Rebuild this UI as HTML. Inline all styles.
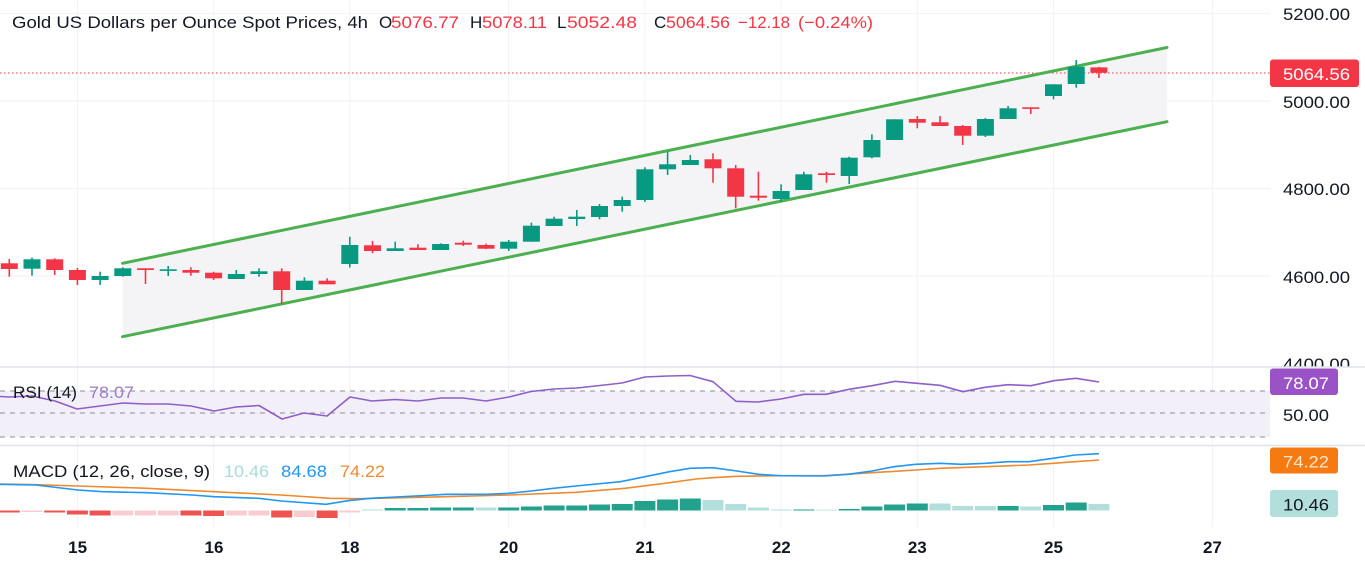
<!DOCTYPE html>
<html><head><meta charset="utf-8">
<style>
html,body{margin:0;padding:0;background:#fff;}
svg{display:block;}
text{font-family:"Liberation Sans",sans-serif;}
</style></head>
<body>
<svg width="1365" height="568" viewBox="0 0 1365 568" xmlns="http://www.w3.org/2000/svg">
<defs>
<clipPath id="mainclip"><rect x="0" y="0" width="1365" height="366.5"/></clipPath>
</defs>
<rect width="1365" height="568" fill="#fff"/>

<!-- vertical grid -->
<g stroke="#f0f2f7" stroke-width="1">
<line x1="77.4" y1="0" x2="77.4" y2="527"/>
<line x1="213.6" y1="0" x2="213.6" y2="527"/>
<line x1="349.8" y1="0" x2="349.8" y2="527"/>
<line x1="508.7" y1="0" x2="508.7" y2="527"/>
<line x1="644.9" y1="0" x2="644.9" y2="527"/>
<line x1="781.1" y1="0" x2="781.1" y2="527"/>
<line x1="917.3" y1="0" x2="917.3" y2="527"/>
<line x1="1053.5" y1="0" x2="1053.5" y2="527"/>
<line x1="1212.4" y1="0" x2="1212.4" y2="527"/>
</g>
<!-- horizontal grid -->
<g stroke="#f0f2f7" stroke-width="1">
<line x1="0" y1="13.5" x2="1270" y2="13.5"/>
<line x1="0" y1="101" x2="1270" y2="101"/>
<line x1="0" y1="188.5" x2="1270" y2="188.5"/>
<line x1="0" y1="276" x2="1270" y2="276"/>
</g>

<!-- channel fill -->
<polygon points="122.5,263.3 1167,47.5 1167,121.7 122.5,336.7" fill="#f4f4f7"/>

<!-- dotted last price line -->
<line x1="0" y1="73" x2="1270" y2="73" stroke="#f23645" stroke-width="1" stroke-dasharray="1.5,2.5"/>

<!-- channel lines -->
<g stroke="#4caf50" stroke-width="3" stroke-linecap="round">
<line x1="122.5" y1="263.3" x2="1167" y2="47.5"/>
<line x1="122.5" y1="336.7" x2="1167" y2="121.7"/>
</g>

<!-- green candles -->
<g fill="#089981">
<rect x="23.5" y="259.3" width="17" height="9.4"/><rect x="31.2" y="257.7" width="1.6" height="18"/>
<rect x="91.6" y="276" width="17" height="4"/><rect x="99.3" y="271.7" width="1.6" height="13.3"/>
<rect x="114.3" y="268.3" width="17" height="7.7"/><rect x="122" y="267.3" width="1.6" height="9.4"/>
<rect x="159.7" y="269.3" width="17" height="1.6"/><rect x="167.4" y="266" width="1.6" height="10"/>
<rect x="227.8" y="274" width="17" height="5"/><rect x="235.5" y="270" width="1.6" height="9"/>
<rect x="250.5" y="271.3" width="17" height="2.7"/><rect x="258.2" y="268.3" width="1.6" height="8.4"/>
<rect x="295.9" y="280.7" width="17" height="9.3"/><rect x="303.6" y="277.3" width="1.6" height="12.7"/>
<rect x="341.3" y="245" width="17" height="19"/><rect x="349" y="236.7" width="1.6" height="30.8"/>
<rect x="386.7" y="248.3" width="17" height="2.7"/><rect x="394.4" y="241.7" width="1.6" height="9.3"/>
<rect x="432.1" y="244" width="17" height="6"/><rect x="439.8" y="243.3" width="1.6" height="6.7"/>
<rect x="500.2" y="241.7" width="17" height="7"/><rect x="507.9" y="240" width="1.6" height="11"/>
<rect x="522.9" y="225.7" width="17" height="16"/><rect x="530.6" y="222.7" width="1.6" height="19"/>
<rect x="545.6" y="218.7" width="17" height="7.3"/><rect x="553.3" y="216.7" width="1.6" height="9.3"/>
<rect x="568.3" y="216.7" width="17" height="2.3"/><rect x="576" y="210" width="1.6" height="16"/>
<rect x="591" y="206" width="17" height="11"/><rect x="598.7" y="204" width="1.6" height="15.3"/>
<rect x="613.7" y="200" width="17" height="6"/><rect x="621.4" y="196.7" width="1.6" height="15"/>
<rect x="636.4" y="169.3" width="17" height="30.7"/><rect x="644.1" y="167.3" width="1.6" height="34.7"/>
<rect x="659.1" y="164.3" width="17" height="5"/><rect x="666.8" y="151.7" width="1.6" height="23.3"/>
<rect x="681.8" y="160" width="17" height="5"/><rect x="689.5" y="155" width="1.6" height="10"/>
<rect x="772.6" y="191" width="17" height="8"/><rect x="780.3" y="184.3" width="1.6" height="17.4"/>
<rect x="795.3" y="174.3" width="17" height="15.7"/><rect x="803" y="171.7" width="1.6" height="18.3"/>
<rect x="840.7" y="157.7" width="17" height="18.3"/><rect x="848.4" y="156.7" width="1.6" height="27.3"/>
<rect x="863.4" y="140" width="17" height="17.3"/><rect x="871.1" y="134.3" width="1.6" height="24"/>
<rect x="886.1" y="119.3" width="17" height="20.7"/><rect x="893.8" y="119.3" width="1.6" height="20.7"/>
<rect x="976.9" y="119" width="17" height="16.7"/><rect x="984.6" y="118" width="1.6" height="19"/>
<rect x="999.6" y="108.3" width="17" height="10.7"/><rect x="1007.3" y="106" width="1.6" height="13"/>
<rect x="1045" y="84.3" width="17" height="11.7"/><rect x="1052.7" y="84.3" width="1.6" height="15"/>
<rect x="1067.7" y="66.7" width="17" height="17.3"/><rect x="1075.4" y="60" width="1.6" height="27.7"/>
</g>
<!-- red candles -->
<g fill="#f23645">
<rect x="0.8" y="263.3" width="17" height="5.7"/><rect x="8.5" y="259" width="1.6" height="17.7"/>
<rect x="46.2" y="259.3" width="17" height="10.7"/><rect x="53.9" y="258.3" width="1.6" height="16.7"/>
<rect x="68.9" y="270" width="17" height="10"/><rect x="76.6" y="268" width="1.6" height="17"/>
<rect x="137" y="268.3" width="17" height="1.7"/><rect x="144.7" y="268.3" width="1.6" height="15.7"/>
<rect x="182.4" y="270" width="17" height="2.7"/><rect x="190.1" y="267.3" width="1.6" height="8.4"/>
<rect x="205.1" y="272.7" width="17" height="5.6"/><rect x="212.8" y="271.7" width="1.6" height="8.3"/>
<rect x="273.2" y="271.3" width="17" height="18.7"/><rect x="280.9" y="268.3" width="1.6" height="35.7"/>
<rect x="318.6" y="280.7" width="17" height="3.6"/><rect x="326.3" y="278.3" width="1.6" height="6"/>
<rect x="364" y="245.3" width="17" height="5.7"/><rect x="371.7" y="241" width="1.6" height="12.3"/>
<rect x="409.4" y="247.7" width="17" height="2.3"/><rect x="417.1" y="244.3" width="1.6" height="5.7"/>
<rect x="454.8" y="242.7" width="17" height="2"/><rect x="462.5" y="240.7" width="1.6" height="5.3"/>
<rect x="477.5" y="245" width="17" height="3.7"/><rect x="485.2" y="243.7" width="1.6" height="5.3"/>
<rect x="704.5" y="159.3" width="17" height="9"/><rect x="712.2" y="153.3" width="1.6" height="29.4"/>
<rect x="727.2" y="168.3" width="17" height="28.4"/><rect x="734.9" y="165" width="1.6" height="43.3"/>
<rect x="749.9" y="195.7" width="17" height="2"/><rect x="757.6" y="171.7" width="1.6" height="29"/>
<rect x="818" y="173.3" width="17" height="1.7"/><rect x="825.7" y="171.7" width="1.6" height="11"/>
<rect x="908.8" y="119" width="17" height="3.7"/><rect x="916.5" y="116" width="1.6" height="12.3"/>
<rect x="931.5" y="122.3" width="17" height="3.7"/><rect x="939.2" y="116" width="1.6" height="10"/>
<rect x="954.2" y="126" width="17" height="9.7"/><rect x="961.9" y="125" width="1.6" height="20"/>
<rect x="1022.3" y="107.3" width="17" height="1.6"/><rect x="1030" y="107.3" width="1.6" height="6.7"/>
<rect x="1090.4" y="67.4" width="17" height="5.4"/><rect x="1098.1" y="66.8" width="1.6" height="11.2"/>
</g>

<!-- price axis labels -->
<g fill="#131722" font-size="17" clip-path="url(#mainclip)">
<text x="1283" y="20" textLength="67" lengthAdjust="spacingAndGlyphs">5200.00</text>
<text x="1283" y="108" textLength="67" lengthAdjust="spacingAndGlyphs">5000.00</text>
<text x="1283" y="195" textLength="67" lengthAdjust="spacingAndGlyphs">4800.00</text>
<text x="1283" y="283" textLength="67" lengthAdjust="spacingAndGlyphs">4600.00</text>
<text x="1283" y="370" textLength="67" lengthAdjust="spacingAndGlyphs">4400.00</text>
</g>
<rect x="1270" y="59.5" width="89" height="27.5" rx="3" fill="#f23645"/>
<text x="1283" y="80" fill="#ffffff" font-size="17" textLength="67" lengthAdjust="spacingAndGlyphs">5064.56</text>

<!-- title -->
<g font-size="17">
<text x="12" y="28" fill="#131722" textLength="356" lengthAdjust="spacingAndGlyphs">Gold US Dollars per Ounce Spot Prices, 4h</text>
<text x="379" y="28" fill="#131722">O</text>
<text x="391" y="28" fill="#f23645" textLength="68" lengthAdjust="spacingAndGlyphs">5076.77</text>
<text x="470" y="28" fill="#131722">H</text>
<text x="482" y="28" fill="#f23645" textLength="65" lengthAdjust="spacingAndGlyphs">5078.11</text>
<text x="557" y="28" fill="#131722">L</text>
<text x="567" y="28" fill="#f23645" textLength="70" lengthAdjust="spacingAndGlyphs">5052.48</text>
<text x="654" y="28" fill="#131722">C</text>
<text x="666" y="28" fill="#f23645" textLength="64" lengthAdjust="spacingAndGlyphs">5064.56</text>
<text x="738" y="28" fill="#f23645" textLength="52" lengthAdjust="spacingAndGlyphs">−12.18</text>
<text x="798" y="28" fill="#f23645" textLength="75" lengthAdjust="spacingAndGlyphs">(−0.24%)</text>
</g>

<!-- pane separators -->
<line x1="0" y1="367" x2="1365" y2="367" stroke="#e0e3eb" stroke-width="1.5"/>
<line x1="0" y1="445.5" x2="1365" y2="445.5" stroke="#e0e3eb" stroke-width="1.5"/>

<!-- RSI pane -->
<rect x="0" y="391" width="1270" height="46" fill="#f3eff9"/>
<g stroke="#8a8d96" stroke-width="1" stroke-dasharray="5,5">
<line x1="0" y1="391" x2="1270" y2="391"/>
<line x1="0" y1="413" x2="1270" y2="413"/>
<line x1="0" y1="437" x2="1270" y2="437"/>
</g>
<polyline fill="none" stroke="#8e5fc8" stroke-width="1.6" stroke-linejoin="round" points="0,396.5 9,397 32,396 55,401 77,409 100,406 123,403 145,404 168,404 191,406 214,411 236,407 259,405.5 282,419 304,413 327,416 350,397 372,401 395,399.5 418,401 441,398 463,398 486,401 509,397 531,391.5 554,389 577,388 600,385.5 622,383 645,377 668,376 690,375.5 713,381.7 736,401.3 758,402 781,399 804,394.3 826,394.3 849,389.3 872,385.7 895,381.3 917,383.3 940,385.3 963,391.7 985,387.3 1008,384.7 1031,385.7 1054,380.7 1076,378.3 1099,382"/>
<g font-size="17">
<text x="13" y="398" fill="#131722" textLength="64" lengthAdjust="spacingAndGlyphs">RSI (14)</text>
<text x="89" y="398" fill="#9c7cc9" textLength="45" lengthAdjust="spacingAndGlyphs">78.07</text>
</g>
<rect x="1270" y="368.5" width="68" height="26.5" rx="3" fill="#9a52c7"/>
<text x="1283" y="389" fill="#ffffff" font-size="17" textLength="46" lengthAdjust="spacingAndGlyphs">78.07</text>
<text x="1283" y="421" fill="#131722" font-size="17" textLength="46" lengthAdjust="spacingAndGlyphs">50.00</text>

<!-- MACD histogram -->
<g fill="#ef5350">
<rect x="0" y="510.5" width="19.8" height="2"/>
<rect x="44.2" y="510.5" width="21" height="2"/>
<rect x="66.9" y="510.5" width="21" height="4"/>
<rect x="89.6" y="510.5" width="21" height="5"/>
<rect x="180.4" y="510.5" width="21" height="5"/>
<rect x="203.1" y="510.5" width="21" height="5.5"/>
<rect x="271.2" y="510.5" width="21" height="7"/>
<rect x="316.6" y="510.5" width="21" height="7.5"/>
</g>
<g fill="#f9cdd0">
<rect x="21.5" y="510.5" width="21" height="1.5"/>
<rect x="112.3" y="510.5" width="21" height="5"/>
<rect x="135" y="510.5" width="21" height="5"/>
<rect x="157.7" y="510.5" width="21" height="5"/>
<rect x="225.8" y="510.5" width="21" height="5"/>
<rect x="248.5" y="510.5" width="21" height="5"/>
<rect x="293.9" y="510.5" width="21" height="6.5"/>
<rect x="339.3" y="510.5" width="21" height="2"/>
</g>
<g fill="#22a28d">
<rect x="384.7" y="508" width="21" height="2.5"/>
<rect x="407.4" y="508" width="21" height="2.5"/>
<rect x="430.1" y="507.5" width="21" height="3"/>
<rect x="452.8" y="507.5" width="21" height="3"/>
<rect x="498.2" y="507.5" width="21" height="3"/>
<rect x="520.9" y="506.5" width="21" height="4"/>
<rect x="543.6" y="505.5" width="21" height="5"/>
<rect x="566.3" y="505.5" width="21" height="5"/>
<rect x="589" y="504.5" width="21" height="6"/>
<rect x="611.7" y="504" width="21" height="6.5"/>
<rect x="634.4" y="501" width="21" height="9.5"/>
<rect x="657.1" y="499.5" width="21" height="11"/>
<rect x="679.8" y="498.5" width="21" height="12"/>
<rect x="793.3" y="509.5" width="21" height="1"/>
<rect x="838.7" y="509" width="21" height="1.5"/>
<rect x="861.4" y="506.5" width="21" height="4"/>
<rect x="884.1" y="504.5" width="21" height="6"/>
<rect x="906.8" y="503.5" width="21" height="7"/>
<rect x="997.6" y="506" width="21" height="4.5"/>
<rect x="1043" y="505" width="21" height="5.5"/>
<rect x="1065.7" y="502.5" width="21" height="8"/>
</g>
<g fill="#b2dfdb">
<rect x="362" y="509.5" width="21" height="1"/>
<rect x="475.5" y="507.5" width="21" height="3"/>
<rect x="702.5" y="500" width="21" height="10.5"/>
<rect x="725.2" y="504" width="21" height="6.5"/>
<rect x="747.9" y="507.5" width="21" height="3"/>
<rect x="770.6" y="509.5" width="21" height="1"/>
<rect x="816" y="509.7" width="21" height="0.8"/>
<rect x="929.5" y="503.5" width="21" height="7"/>
<rect x="952.2" y="506" width="21" height="4.5"/>
<rect x="974.9" y="506" width="21" height="4.5"/>
<rect x="1020.3" y="506.5" width="21" height="4"/>
<rect x="1088.4" y="504" width="21" height="6.5"/>
</g>

<!-- MACD lines -->
<polyline fill="none" stroke="#ee8a2f" stroke-width="1.6" stroke-linejoin="round" points="0,484 35.7,484.7 78,486 147,488.3 214,491.7 281,495 330,498.3 357,498.7 446,496.7 509,495 576,492.3 625,488.3 669.6,482.7 696,479 712.8,477.7 736.8,476.3 780.4,475.7 824,475.7 872,472.7 915.8,470 939.8,468.3 985.7,466.7 1029,465 1053,463.3 1075,461.7 1099,460"/>
<polyline fill="none" stroke="#2196f3" stroke-width="1.6" stroke-linejoin="round" points="0,484.3 35.7,485 78,490 102.7,491.7 147,492.7 192,495 214,496.7 259,498.3 281,501 326,504.3 348,500.7 370.5,498.3 415,496 446,494.3 486.6,494.3 509,493.3 531,491 553.6,488.3 576,486 620.5,481.7 645,476.7 669.6,471.7 690,468.3 712.8,467.7 736.8,471 758.6,474.3 780.4,475.7 824,476 848,474.3 872,471 894,466.7 915.8,464.3 939.8,463.3 961.7,464.3 985.7,463.3 1007.5,461.7 1029,461.7 1053,458.3 1075,455 1099,453.7"/>

<g font-size="17">
<text x="13" y="477" fill="#131722" textLength="197" lengthAdjust="spacingAndGlyphs">MACD (12, 26, close, 9)</text>
<text x="224" y="477" fill="#a8dcd6" textLength="45" lengthAdjust="spacingAndGlyphs">10.46</text>
<text x="281" y="477" fill="#2196f3" textLength="46" lengthAdjust="spacingAndGlyphs">84.68</text>
<text x="340" y="477" fill="#ee8a2f" textLength="45" lengthAdjust="spacingAndGlyphs">74.22</text>
</g>
<rect x="1270" y="447.5" width="68" height="26" rx="3" fill="#f57a12"/>
<text x="1283" y="467.5" fill="#fde7cf" font-size="17" textLength="46" lengthAdjust="spacingAndGlyphs">74.22</text>
<rect x="1270" y="490" width="68" height="27" rx="3" fill="#b2dfdb"/>
<text x="1283" y="510.5" fill="#131722" font-size="17" textLength="46" lengthAdjust="spacingAndGlyphs">10.46</text>

<!-- time axis -->
<g fill="#131722" font-size="17" font-weight="bold" text-anchor="middle">
<text x="77.6" y="553">15</text>
<text x="214" y="553">16</text>
<text x="350" y="553">18</text>
<text x="508.7" y="553">20</text>
<text x="645" y="553">21</text>
<text x="781.3" y="553">22</text>
<text x="917.3" y="553">23</text>
<text x="1053.5" y="553">25</text>
<text x="1212.4" y="553">27</text>
</g>
</svg>
</body></html>
